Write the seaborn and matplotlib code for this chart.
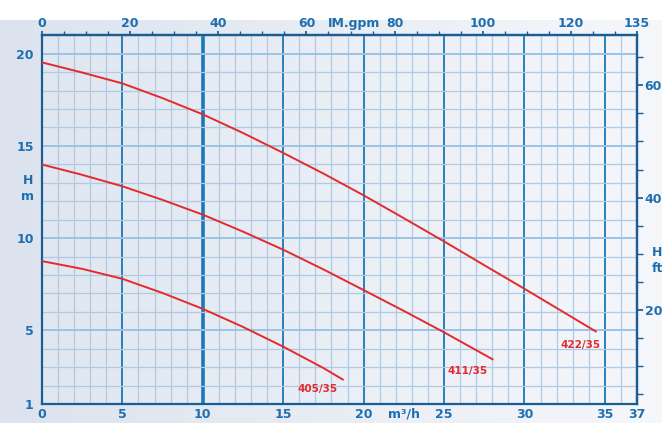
import numpy as np
import pandas as pd
import matplotlib
matplotlib.use("Agg")
import matplotlib.pyplot as plt
from matplotlib.ticker import MultipleLocator, FixedLocator
import seaborn as sns

# pump curves: flow (m3/h) vs head (m)
flow_422 = [0, 2.5, 5, 7.5, 10, 12.5, 15, 17.5, 20, 22.5, 25, 27.5, 30, 34.45]
head_422 = [19.53, 18.98, 18.39, 17.59, 16.71, 15.70, 14.62, 13.50, 12.32, 11.08, 9.82, 8.53, 7.25, 4.93]

flow_411 = [0, 2.5, 5, 7.5, 10, 12.5, 15, 17.5, 20, 22.5, 25, 28.03]
head_411 = [13.99, 13.43, 12.81, 12.07, 11.27, 10.35, 9.37, 8.30, 7.18, 6.05, 4.89, 3.42]

flow_405 = [0, 2.5, 5, 7.5, 10, 12.5, 15, 17.5, 18.72]
head_405 = [8.75, 8.33, 7.79, 7.02, 6.16, 5.18, 4.11, 2.95, 2.32]

models = ["422/35", "411/35", "405/35"]
label_offsets = [(-15, -13), (-25, -12), (-25, -9)]

x_ticks = [0, 5, 10, 15, 20, 25, 30, 35, 37]
y_ticks = [1, 5, 10, 15, 20]
gpm_ticks = [0, 20, 40, 60, 80, 100, 120, 135]
ft_ticks = [20, 40, 60]

df = pd.concat([
    pd.DataFrame({"flow": flow_422, "head": head_422, "model": "422/35"}),
    pd.DataFrame({"flow": flow_411, "head": head_411, "model": "411/35"}),
    pd.DataFrame({"flow": flow_405, "head": head_405, "model": "405/35"}),
])

sns.set_theme(style="white")
plt.rcParams["font.family"] = ["DejaVu Sans"]

blue = "#1f6fb0"
dark = "#1b5d93"
red = "#e32b2b"

fig = plt.figure(figsize=(6.62, 4.23), dpi=100)
fig.patch.set_facecolor("white")

# background panel with soft gradient
bg = fig.add_axes([0, 0, 1, 1 - 20 / 423], zorder=-5)
grad = np.linspace(0, 1, 256).reshape(1, -1)
bg.imshow(grad, aspect="auto", cmap=matplotlib.colors.LinearSegmentedColormap.from_list(
    "bg", ["#dce3ee", "#f5f7fb"]), extent=[0, 1, 0, 1])
bg.axis("off")

ax = fig.add_axes([42 / 662, 1 - 404 / 423, 595 / 662, (404 - 35.3) / 423])
ax.imshow(grad, aspect="auto", cmap=matplotlib.colors.LinearSegmentedColormap.from_list(
    "bg2", ["#e0e7f1", "#f4f6fb"]), extent=[0, 37, 1, 21], zorder=0)

sns.lineplot(data=df, x="flow", y="head", hue="model", palette=[red, red, red],
             sort=False, linewidth=1.4, legend=False, ax=ax, zorder=5)

ax.set_xlim(0, 37)
ax.set_ylim(1, 21)
ax.set_xlabel("")
ax.set_ylabel("")

ax.xaxis.set_major_locator(FixedLocator(x_ticks))
ax.xaxis.set_minor_locator(MultipleLocator(1))
ax.yaxis.set_major_locator(FixedLocator(y_ticks))
ax.yaxis.set_minor_locator(MultipleLocator(1))

ax.set_axisbelow(True)
ax.grid(which="minor", axis="both", color="#b0cae3", linewidth=0.9)
ax.grid(which="major", axis="x", color="#1a78b8", linewidth=1.3)
ax.grid(which="major", axis="y", color="#9cc2e3", linewidth=1.4)
ax.xaxis.get_gridlines()[2].set_linewidth(2.6)

for s in ax.spines.values():
    s.set_color(dark)
    s.set_linewidth(1.6)
    s.set_visible(True)

ax.tick_params(axis="x", which="both", direction="in", colors=dark, length=4,
               labelcolor=blue, labelsize=9, pad=3)
ax.tick_params(axis="y", which="both", direction="out", colors=dark, length=4,
               labelcolor=blue, labelsize=9, pad=2)
for lab in ax.get_xticklabels() + ax.get_yticklabels():
    lab.set_fontweight("bold")

# top axis: imperial gallons per minute
top = ax.secondary_xaxis("top", functions=(lambda q: q * 135 / 37, lambda g: g * 37 / 135))
top.xaxis.set_major_locator(FixedLocator(gpm_ticks))
top.xaxis.set_minor_locator(MultipleLocator(5))
top.tick_params(which="both", direction="out", colors=dark, length=3,
                labelcolor=blue, labelsize=9, pad=1)
top.spines["top"].set_color(dark)
top.spines["top"].set_linewidth(1.6)
for lab in top.get_xticklabels():
    lab.set_fontweight("bold")

# right axis: head in feet
right = ax.secondary_yaxis("right", functions=(lambda m: m * 3.281, lambda f: f / 3.281))
right.yaxis.set_major_locator(FixedLocator(ft_ticks))
right.yaxis.set_minor_locator(MultipleLocator(5))
right.tick_params(which="both", direction="out", colors=dark, length=4,
                  labelcolor=blue, labelsize=9, pad=1.5)
right.spines["right"].set_color(dark)
right.spines["right"].set_linewidth(1.6)
for lab in right.get_yticklabels():
    lab.set_fontweight("bold")

# unit labels
fig.text(404 / 662, 1 - 414 / 423, "m³/h", ha="center", va="center",
         color=blue, fontsize=9, fontweight="bold")
fig.text(354 / 662, 1 - 24 / 423, "IM.gpm", ha="center", va="center",
         color=blue, fontsize=9, fontweight="bold")
fig.text(28 / 662, 1 - 188 / 423, "H\nm", ha="center", va="center", color=blue,
         fontsize=9, fontweight="bold", linespacing=1.3)
fig.text(652 / 662, 1 - 261 / 423, "H\nft", ha="left", va="center", color=blue,
         fontsize=9, fontweight="bold", linespacing=1.3)

# model labels at curve ends
for (name, grp), off in zip(df.groupby("model", sort=False), label_offsets):
    ax.annotate(name, (grp["flow"].iloc[-1], grp["head"].iloc[-1]),
                xytext=off, textcoords="offset pixels", ha="center", va="center",
                color=red, fontsize=7.5, fontweight="bold", zorder=6)

fig.savefig("out.png", dpi=100)
